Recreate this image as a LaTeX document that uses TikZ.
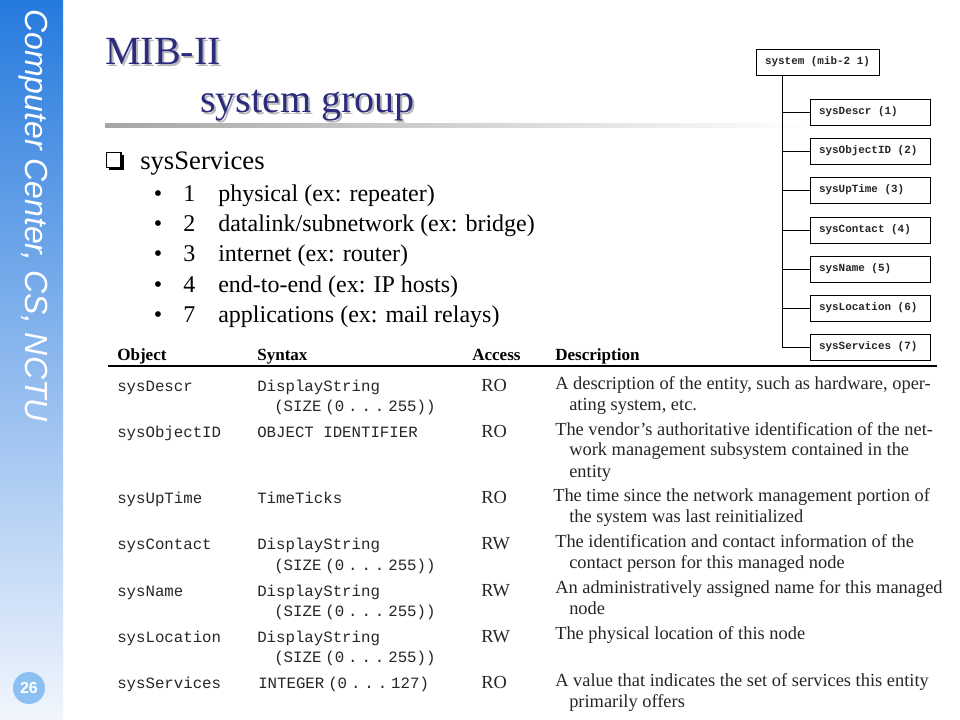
\documentclass[tikz,border=0pt]{standalone}
\usepackage{fontspec}
\setmainfont{Liberation Serif}
\setsansfont{Liberation Sans}
\setmonofont{Liberation Mono}
\usetikzlibrary{positioning,shadows}

\definecolor{sidetop}{RGB}{38,122,222}
\definecolor{sidebot}{RGB}{242,246,253}
\definecolor{titleblue}{RGB}{44,44,126}
\definecolor{pagedot}{RGB}{140,192,242}

\newcommand{\sgap}{\hspace{0.25em}}
\newcommand{\tlab}[1]{\makebox[76.5pt][l]{#1}}

\begin{document}
\begin{tikzpicture}[x=0.75pt,y=-0.75pt,
    every node/.style={inner sep=0pt},
    sidebar/.style={font=\fontsize{24}{28}\selectfont\sffamily\itshape,text=white},
    titletxt/.style={font=\fontsize{30}{34}\selectfont,text=titleblue},
    titleshadow/.style={font=\fontsize{30}{34}\selectfont,text=black!28},
    bigitem/.style={font=\fontsize{20}{24}\selectfont},
    subitem/.style={font=\fontsize{18}{22}\selectfont},
    treebox/.style={draw,line width=0.7pt,minimum height=19.5pt,inner xsep=6.75pt,
        font=\fontsize{8.2}{9}\selectfont\ttfamily\bfseries,text=black!85},
    colhead/.style={font=\fontsize{12.8}{15}\selectfont\bfseries},
    monotxt/.style={font=\fontsize{11.8}{14}\selectfont\ttfamily,text=black!85},
    bodytxt/.style={font=\fontsize{13.8}{16}\selectfont,text=black!85}]
    \useasboundingbox (0,0) rectangle (960,720);
    \fill[white] (0,0) rectangle (960,720);

    % side band
    \shade[top color=sidetop,bottom color=sidebot] (0,0) rectangle (63,720);
    \node[sidebar,rotate=-90,anchor=west] (side) at (33,9) {Computer Center, CS, NCTU};
    \node[circle,fill=pagedot,minimum size=24pt,text=white,
        font=\fontsize{12}{14}\selectfont\sffamily\bfseries] (pagenum) at (29,688) {26};

    % title
    \node[titleshadow,anchor=base west] (mibsh) at (107,67) {MIB-II};
    \node[titletxt,anchor=base west] (mib) at (105,65) {MIB-II};
    \node[titleshadow,anchor=base west] (grpsh) at (202,115) {system group};
    \node[titletxt,anchor=base west] (grp) at (200,113) {system group};
    \shade[left color=black!35,right color=white] (105,124) rectangle (810,128);

    % sysServices list
    \node[draw,line width=1pt,fill=white,minimum size=11pt,
        drop shadow={shadow xshift=2pt,shadow yshift=-2pt,opacity=1,fill=black}] (chk) at (113.5,160) {};
    \node[bigitem,anchor=base west] (svc) at (140,170) {sysServices};
    \foreach \y/\n/\txt in {202/1/{physical (ex: repeater)},232/2/{datalink/subnetwork (ex: bridge)},
        262/3/{internet (ex: router)},292/4/{end-to-end (ex: IP hosts)},322/7/{applications (ex: mail relays)}}
    {
        \node[subitem,anchor=base] (dot\n) at (158,\y) {\textbullet};
        \node[subitem,anchor=base west] (num\n) at (183,\y) {\n};
        \node[subitem,anchor=base west] (lay\n) at (218,\y) {\txt};
    }

    % system subtree
    \node[treebox] (sysroot) at (817.5,62) {\makebox[78.75pt][l]{system (mib-2 1)}};
    \node[treebox] (obj1) at (870,112) {\tlab{sysDescr (1)}};
    \node[treebox] (obj2) at (870,151) {\tlab{sysObjectID (2)}};
    \node[treebox] (obj3) at (870,190) {\tlab{sysUpTime (3)}};
    \node[treebox] (obj4) at (870,230) {\tlab{sysContact (4)}};
    \node[treebox] (obj5) at (870,269) {\tlab{sysName (5)}};
    \node[treebox] (obj6) at (870,308) {\tlab{sysLocation (6)}};
    \node[treebox] (obj7) at (870,347) {\tlab{sysServices (7)}};
    \foreach \i in {1,...,7}
        \draw[line width=0.7pt] ([xshift=20.25pt]sysroot.south west) |- (obj\i.west);

    % table
    \node[colhead,anchor=base west] (hobj) at (117,360) {Object};
    \node[colhead,anchor=base west] (hsyn) at (257,360) {Syntax};
    \node[colhead,anchor=base west] (hacc) at (472,360) {Access};
    \node[colhead,anchor=base west] (hdes) at (555,360) {Description};
    \draw[line width=1.1pt] (108,366) -- (937,366);

    \foreach \y/\o/\a in {388/sysDescr/RO,434/sysObjectID/RO,500/sysUpTime/RO,546/sysContact/RW,
        593/sysName/RW,639/sysLocation/RW,685/sysServices/RO}
    {
        \node[monotxt,anchor=mid west] (o\y) at (117,\y) {\o};
        \node[bodytxt,anchor=mid west] (a\y) at (481,\y) {\a};
    }
    \foreach \x/\y/\s in {257/388/DisplayString,274/408/{(SIZE\sgap(0\sgap.\sgap.\sgap.\sgap255))},
        257/434/OBJECT IDENTIFIER,257/500/TimeTicks,
        257/546/DisplayString,274/567/{(SIZE\sgap(0\sgap.\sgap.\sgap.\sgap255))},
        257/593/DisplayString,274/613/{(SIZE\sgap(0\sgap.\sgap.\sgap.\sgap255))},
        257/639/DisplayString,274/659/{(SIZE\sgap(0\sgap.\sgap.\sgap.\sgap255))},
        258/685/{INTEGER\sgap(0\sgap.\sgap.\sgap.\sgap127)}}
        \node[monotxt,anchor=mid west] (s\y) at (\x,\y) {\s};
    \foreach \x/\y/\txt in {555/386/{A description of the entity, such as hardware, oper-},
        569/407/{ating system, etc.},
        555/432/{The vendor’s authoritative identification of the net-},
        569/452/{work management subsystem contained in the},
        569/474/{entity},
        553/498/{The time since the network management portion of},
        569/519/{the system was last reinitialized},
        555/544/{The identification and contact information of the},
        569/565/{contact person for this managed node},
        555/590/{An administratively assigned name for this managed},
        569/611/{node},
        555/636/{The physical location of this node},
        555/683/{A value that indicates the set of services this entity},
        569/704/{primarily offers}}
        \node[bodytxt,anchor=mid west] (d\y) at (\x,\y) {\txt};
\end{tikzpicture}
\end{document}
